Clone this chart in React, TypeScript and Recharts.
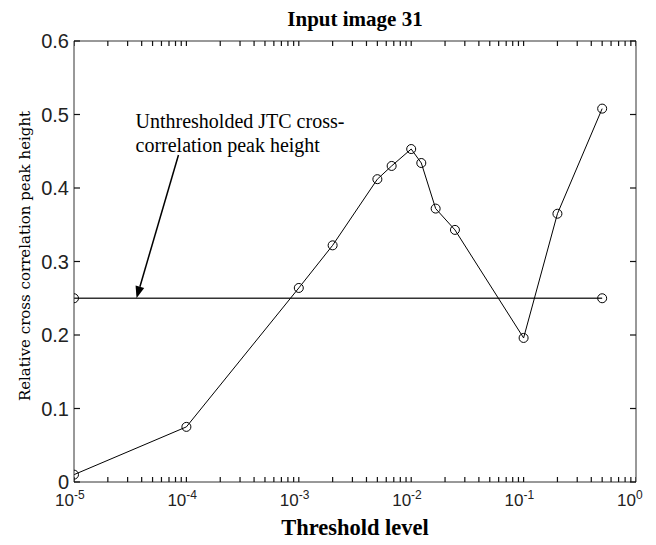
import { LineChart, Line, XAxis, YAxis, ReferenceLine, Label } from "recharts";

// threshold level (log scale) and relative cross-correlation peak height
const thresholds = [1e-5, 1e-4, 1e-3, 2e-3, 5e-3, 6.7e-3, 1e-2, 1.23e-2, 1.65e-2, 2.45e-2, 1e-1, 2e-1, 5e-1];
const peakHeights = [0.01, 0.075, 0.264, 0.322, 0.412, 0.43, 0.453, 0.434, 0.372, 0.343, 0.196, 0.365, 0.508];

// unthresholded JTC reference level
const baselineX = [1e-5, 5e-1];
const baselineY = [0.25, 0.25];

const majorTicks = [1e-5, 1e-4, 1e-3, 1e-2, 1e-1, 1];
const tickExponents = ["-5", "-4", "-3", "-2", "-1", "0"];
const minorTicks = [
  2e-5, 3e-5, 4e-5, 5e-5, 6e-5, 7e-5, 8e-5, 9e-5,
  2e-4, 3e-4, 4e-4, 5e-4, 6e-4, 7e-4, 8e-4, 9e-4,
  2e-3, 3e-3, 4e-3, 5e-3, 6e-3, 7e-3, 8e-3, 9e-3,
  2e-2, 3e-2, 4e-2, 5e-2, 6e-2, 7e-2, 8e-2, 9e-2,
  2e-1, 3e-1, 4e-1, 5e-1, 6e-1, 7e-1, 8e-1, 9e-1,
];
const yTicks = [0, 0.1, 0.2, 0.3, 0.4, 0.5, 0.6];
const yTickLabels = ["0", "0.1", "0.2", "0.3", "0.4", "0.5", "0.6"];

const arrowFrom = { x: 8.5e-5, y: 0.445 };
const arrowTo = { x: 3.6e-5, y: 0.25 };
const annotationLines = ["Unthresholded JTC cross-", "correlation peak height"];

const xTicks = [...majorTicks, ...minorTicks].sort((a, b) => a - b);
const peakData = thresholds.map((x, i) => ({ x, y: peakHeights[i] }));
const baselineData = baselineX.map((x, i) => ({ x, y: baselineY[i] }));
// tick marks sit on the bottom (y = 0) and top (y = 0.6) edges of the box
const bottomTickData = xTicks.map((x) => ({ x, y: yTicks[0] }));
const topTickData = xTicks.map((x) => ({ x, y: yTicks[yTicks.length - 1] }));

const AXIS = "#333";
const SANS = "'Liberation Sans', Arial, sans-serif";
const SERIF = "'Liberation Serif', 'Times New Roman', serif";

function BottomLabel({ x, y, payload }: any) {
  const i = majorTicks.indexOf(payload.value);
  if (i < 0) return <g />;
  return (
    <text x={x - 19} y={y + 24} fontFamily={SANS} fontSize={17} fill="#222">
      10
      <tspan fontSize={12} dy={-7}>{tickExponents[i]}</tspan>
    </text>
  );
}

function UpTick({ cx, cy }: any) {
  if (cx == null || cy == null) return <g />;
  return <rect x={cx - 0.6} y={cy - 5} width={1.2} height={5} fill="#111" />;
}

function DownTick({ cx, cy }: any) {
  if (cx == null || cy == null) return <g />;
  return <rect x={cx - 0.6} y={cy} width={1.2} height={5} fill="#111" />;
}

function LeftTick({ x, y, payload }: any) {
  const i = yTicks.indexOf(payload.value);
  return (
    <g>
      <rect x={x} y={y - 0.6} width={6} height={1.2} fill="#111" />
      <text x={x - 5} y={y + 7} textAnchor="end" fontFamily={SANS} fontSize={20} fill="#222">
        {yTickLabels[i]}
      </text>
    </g>
  );
}

function RightTick({ x, y }: any) {
  return <rect x={x - 6} y={y - 0.6} width={6} height={1.2} fill="#111" />;
}

function Arrow(props: any) {
  const { x1, y1, x2, y2 } = props;
  const dx = x2 - x1;
  const dy = y2 - y1;
  const len = Math.hypot(dx, dy);
  const ux = dx / len;
  const uy = dy / len;
  const hl = 12;
  const hw = 4.5;
  const bx = x2 - ux * hl;
  const by = y2 - uy * hl;
  return (
    <g>
      <line x1={x1} y1={y1} x2={bx} y2={by} stroke="#000" strokeWidth={1.5} />
      <polygon
        points={`${x2},${y2} ${bx - uy * hw},${by + ux * hw} ${bx + uy * hw},${by - ux * hw}`}
        fill="#000"
      />
      <text x={x2 - 1} y={y1 - 27} fontFamily={SERIF} fontSize={20} fill="#000">
        {annotationLines[0]}
      </text>
      <text x={x2 - 1} y={y1 - 3} fontFamily={SERIF} fontSize={20} fill="#000">
        {annotationLines[1]}
      </text>
    </g>
  );
}

export default function App() {
  return (
    <div style={{ position: "absolute", left: 0, top: 0, background: "#fff" }}>
      <LineChart width={656} height={545} margin={{ top: 0, right: 0, bottom: 0, left: 0 }}>
        <XAxis
          dataKey="x"
          type="number"
          scale="log"
          domain={[1e-5, 1]}
          allowDataOverflow
          ticks={majorTicks}
          interval={0}
          tick={<BottomLabel />}
          tickLine={false}
          tickSize={0}
          tickMargin={0}
          height={63}
          axisLine={{ stroke: AXIS }}
        >
          <Label
            content={() => (
              <text x={355} y={535} textAnchor="middle" fontFamily={SERIF} fontWeight="bold" fontSize={22.5} fill="#000">
                Threshold level
              </text>
            )}
          />
        </XAxis>
        <XAxis
          xAxisId="top"
          orientation="top"
          dataKey="x"
          type="number"
          scale="log"
          domain={[1e-5, 1]}
          allowDataOverflow
          ticks={majorTicks}
          tick={false}
          tickLine={false}
          height={41}
          axisLine={{ stroke: AXIS }}
        >
          <Label
            content={() => (
              <text x={355} y={26} textAnchor="middle" fontFamily={SERIF} fontWeight="bold" fontSize={21} fill="#000">
                Input image 31
              </text>
            )}
          />
        </XAxis>
        <YAxis
          type="number"
          domain={[0, 0.6]}
          allowDataOverflow
          ticks={yTicks}
          interval={0}
          tick={<LeftTick />}
          tickLine={false}
          tickSize={0}
          tickMargin={0}
          width={74}
          axisLine={{ stroke: AXIS }}
        >
          <Label
            content={() => (
              <text
                x={30}
                y={256}
                transform="rotate(-90, 30, 256)"
                textAnchor="middle"
                fontFamily="'DejaVu Serif', serif"
                fontSize={15}
                fill="#000"
              >
                Relative cross correlation peak height
              </text>
            )}
          />
        </YAxis>
        <YAxis
          yAxisId="right"
          orientation="right"
          type="number"
          domain={[0, 0.6]}
          allowDataOverflow
          ticks={yTicks}
          interval={0}
          tick={<RightTick />}
          tickLine={false}
          tickSize={0}
          tickMargin={0}
          width={20}
          axisLine={{ stroke: AXIS }}
        />
        <Line
          data={bottomTickData}
          dataKey="y"
          stroke="none"
          dot={<UpTick />}
          activeDot={false}
          isAnimationActive={false}
          legendType="none"
        />
        <Line
          data={topTickData}
          dataKey="y"
          stroke="none"
          dot={<DownTick />}
          activeDot={false}
          isAnimationActive={false}
          legendType="none"
        />
        <Line
          data={baselineData}
          xAxisId="top"
          yAxisId="right"
          dataKey="y"
          type="linear"
          stroke="#333"
          strokeWidth={1.5}
          dot={{ r: 4.5, fill: "none", stroke: "#000", strokeWidth: 1 }}
          activeDot={false}
          isAnimationActive={false}
        />
        <Line
          data={peakData}
          dataKey="y"
          type="linear"
          stroke="#000"
          strokeWidth={1}
          dot={{ r: 4.5, fill: "none", stroke: "#000", strokeWidth: 1 }}
          activeDot={false}
          isAnimationActive={false}
        />
        <ReferenceLine segment={[arrowFrom, arrowTo]} shape={<Arrow />} ifOverflow="visible" />
      </LineChart>
    </div>
  );
}
